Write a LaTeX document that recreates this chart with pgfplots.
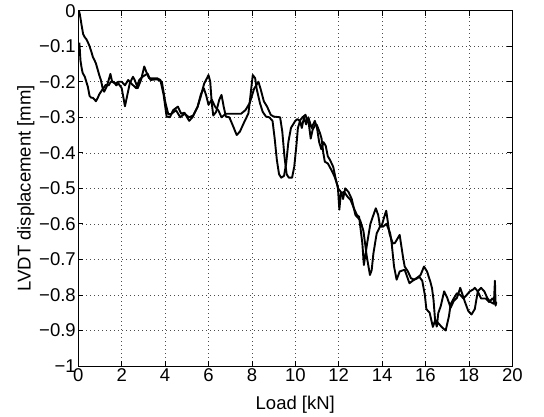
\documentclass[border=0pt]{standalone}
\usepackage{fontspec}
\setmainfont{Liberation Sans}
\usepackage{pgfplots}
\pgfplotsset{compat=1.18}
\pgfplotstableread{
x y
0.03 0
0.07 -0.01
0.15 -0.04
0.22 -0.065
0.30 -0.075
0.37 -0.08
0.45 -0.09
0.52 -0.10
0.60 -0.115
0.67 -0.13
0.75 -0.14
0.81 -0.148
0.89 -0.165
0.96 -0.18
1.04 -0.195
1.11 -0.215
1.19 -0.228
1.30 -0.215
1.40 -0.195
1.48 -0.178
1.56 -0.20
1.70 -0.205
1.85 -0.20
2.00 -0.20
2.15 -0.21
2.30 -0.195
2.44 -0.205
2.67 -0.218
2.81 -0.195
2.96 -0.186
3.19 -0.177
3.33 -0.195
3.63 -0.193
3.85 -0.20
4.00 -0.255
4.15 -0.292
4.30 -0.29
4.50 -0.28
4.70 -0.30
4.90 -0.29
5.10 -0.30
5.30 -0.295
5.50 -0.27
5.65 -0.24
5.80 -0.205
5.93 -0.19
6.00 -0.181
6.08 -0.20
6.15 -0.26
6.22 -0.295
6.35 -0.285
6.50 -0.25
6.60 -0.237
6.70 -0.27
6.80 -0.298
6.96 -0.30
7.10 -0.32
7.30 -0.35
7.45 -0.34
7.62 -0.317
7.84 -0.289
7.95 -0.23
8.04 -0.181
8.15 -0.19
8.22 -0.22
8.37 -0.26
8.50 -0.285
8.65 -0.298
8.80 -0.30
8.95 -0.31
9.05 -0.36
9.15 -0.42
9.25 -0.46
9.35 -0.47
9.48 -0.465
9.58 -0.43
9.68 -0.37
9.80 -0.33
10.00 -0.31
10.10 -0.305
10.20 -0.31
10.33 -0.30
10.47 -0.293
10.55 -0.31
10.62 -0.317
10.71 -0.36
10.80 -0.335
10.93 -0.32
10.99 -0.321
11.14 -0.345
11.21 -0.36
11.29 -0.40
11.36 -0.425
11.50 -0.43
11.66 -0.448
11.81 -0.467
11.96 -0.495
12.03 -0.56
12.10 -0.514
12.25 -0.51
12.40 -0.523
12.55 -0.533
12.70 -0.556
12.84 -0.575
12.94 -0.58
13.09 -0.655
13.16 -0.716
13.31 -0.655
13.46 -0.60
13.60 -0.575
13.71 -0.556
13.82 -0.575
13.90 -0.605
14.04 -0.608
14.20 -0.60
14.37 -0.626
14.44 -0.654
14.55 -0.72
14.67 -0.757
14.81 -0.734
15.04 -0.729
15.26 -0.767
15.48 -0.757
15.70 -0.748
15.85 -0.76
15.97 -0.80
16.04 -0.84
16.19 -0.85
16.34 -0.89
16.45 -0.87
16.64 -0.883
16.79 -0.893
16.93 -0.90
17.08 -0.86
17.16 -0.826
17.30 -0.81
17.45 -0.795
17.60 -0.80
17.75 -0.81
17.90 -0.80
18.04 -0.79
18.19 -0.785
18.27 -0.78
18.41 -0.79
18.56 -0.81
18.78 -0.81
18.93 -0.82
19.08 -0.81
19.23 -0.82
19.26 -0.825
}\curveA
\pgfplotstableread{
x y
0.05 -0.09
0.10 -0.14
0.15 -0.16
0.20 -0.175
0.30 -0.186
0.37 -0.20
0.44 -0.214
0.52 -0.24
0.60 -0.245
0.67 -0.245
0.75 -0.25
0.81 -0.255
0.90 -0.245
0.96 -0.236
1.11 -0.222
1.26 -0.209
1.40 -0.21
1.50 -0.20
1.63 -0.20
1.75 -0.21
1.85 -0.205
2.00 -0.218
2.08 -0.245
2.15 -0.269
2.25 -0.24
2.37 -0.205
2.52 -0.186
2.60 -0.195
2.74 -0.218
2.89 -0.195
3.04 -0.157
3.15 -0.175
3.26 -0.19
3.48 -0.19
3.63 -0.19
3.78 -0.195
3.93 -0.236
4.07 -0.298
4.22 -0.30
4.37 -0.28
4.59 -0.27
4.74 -0.29
4.89 -0.287
5.11 -0.31
5.26 -0.30
5.50 -0.27
5.65 -0.235
5.78 -0.218
5.90 -0.24
6.00 -0.265
6.15 -0.25
6.30 -0.27
6.45 -0.28
6.60 -0.30
6.80 -0.29
7.00 -0.29
7.20 -0.29
7.50 -0.29
7.70 -0.28
7.90 -0.26
8.10 -0.22
8.30 -0.20
8.40 -0.22
8.55 -0.255
8.70 -0.27
8.87 -0.293
9.00 -0.298
9.30 -0.30
9.40 -0.34
9.50 -0.41
9.60 -0.46
9.70 -0.47
9.85 -0.47
9.95 -0.44
10.05 -0.38
10.12 -0.33
10.22 -0.31
10.30 -0.33
10.40 -0.30
10.50 -0.32
10.60 -0.30
10.75 -0.33
10.90 -0.31
11.00 -0.33
11.10 -0.37
11.20 -0.39
11.30 -0.37
11.40 -0.38
11.50 -0.41
11.60 -0.42
11.75 -0.44
11.85 -0.47
11.97 -0.50
12.10 -0.51
12.20 -0.53
12.30 -0.50
12.45 -0.51
12.60 -0.53
12.77 -0.575
12.99 -0.59
13.14 -0.62
13.29 -0.69
13.44 -0.744
13.52 -0.73
13.60 -0.683
13.75 -0.627
13.90 -0.608
13.97 -0.608
14.10 -0.58
14.19 -0.563
14.34 -0.627
14.49 -0.655
14.59 -0.654
14.81 -0.631
14.96 -0.692
15.04 -0.72
15.19 -0.734
15.33 -0.753
15.48 -0.757
15.63 -0.753
15.78 -0.743
15.93 -0.72
16.07 -0.734
16.22 -0.762
16.30 -0.781
16.37 -0.814
16.44 -0.87
16.52 -0.889
16.59 -0.851
16.70 -0.832
16.86 -0.79
17.00 -0.808
17.16 -0.836
17.30 -0.817
17.45 -0.808
17.60 -0.78
17.82 -0.82
17.97 -0.845
18.12 -0.855
18.27 -0.84
18.41 -0.79
18.56 -0.78
18.71 -0.79
18.86 -0.81
19.00 -0.82
19.15 -0.825
19.20 -0.76
19.23 -0.83
19.26 -0.82
}\curveB
\begin{document}
\begin{tikzpicture}
\path[use as bounding box] (-78.3pt,-51pt) rectangle (465.7pt,366pt);
\begin{axis}[
  scale only axis, width=434pt, height=355.3pt,
  xmin=0, xmax=20, ymin=-1, ymax=0,
  xtick={0,2,4,6,8,10,12,14,16,18,20},
  ytick={-1,-0.9,-0.8,-0.7,-0.6,-0.5,-0.4,-0.3,-0.2,-0.1,0},
  yticklabels={−1,−0.9,−0.8,−0.7,−0.6,−0.5,−0.4,−0.3,−0.2,−0.1,0},
  /pgf/number format/assume math mode=true,
  grid=major,
  grid style={black!70, line width=0.6pt, dash pattern=on 0.6pt off 3.4pt},
  axis line style={line width=0.8pt},
  tick style={black, line width=0.8pt},
  major tick length=5pt,
  tick label style={font=\fontsize{18.5}{21}\selectfont},
  label style={font=\fontsize{18.5}{21}\selectfont},
  xticklabel style={yshift=1pt},
  yticklabel style={xshift=1pt},
  xlabel={Load [kN]}, ylabel={LVDT displacement [mm]},
  xlabel style={yshift=-8pt},
  ylabel style={yshift=-2pt},
]
\addplot[black, line width=1.9pt, line join=round] table[x=x,y=y] {\curveA};
\addplot[black, line width=1.9pt, line join=round] table[x=x,y=y] {\curveB};
\end{axis}
\end{tikzpicture}
\end{document}
